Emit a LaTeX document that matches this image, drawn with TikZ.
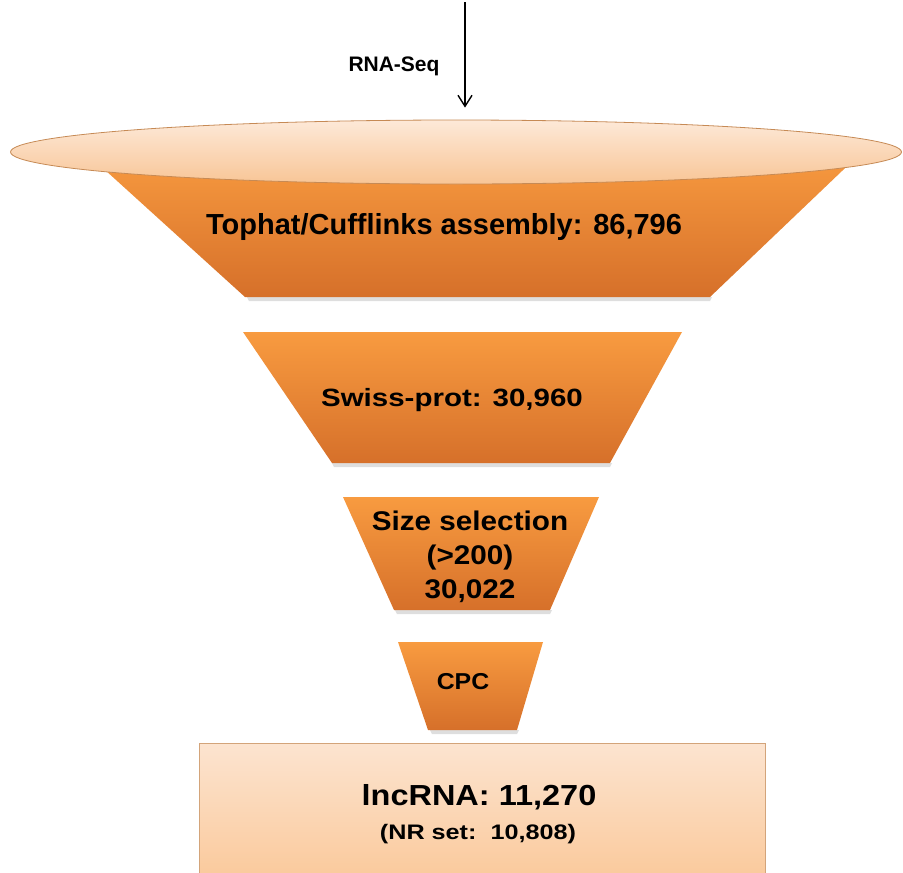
\documentclass[tikz,border=0pt]{standalone}
\usepackage{fontspec}
\setmainfont{Liberation Sans}
\usetikzlibrary{calc,positioning,arrows.meta,shapes.geometric}

\definecolor{funnelhi}{HTML}{F89B40}
\definecolor{funnello}{HTML}{D6702A}
\definecolor{rimhi}{HTML}{FDE9D8}
\definecolor{rimlo}{HTML}{F8C596}
\definecolor{rimline}{HTML}{C68A55}
\definecolor{boxhi}{HTML}{FCE4D0}
\definecolor{boxlo}{HTML}{FAC797}
\definecolor{boxline}{HTML}{D3A47A}

\newcommand\stretchx[2]{\scalebox{#1}[1]{#2}}

\tikzset{
  stage/.style={top color=funnelhi,bottom color=funnello},
  stageshadow/.style={fill=black,opacity=0.13},
  lbl/.style={font=\bfseries,align=center,inner sep=0pt},
}

\begin{document}
\begin{tikzpicture}[x=1pt,y=-1pt]
  \useasboundingbox (0,0) rectangle (903,873);
  \clip (0,0) rectangle (903,873);
  % stiny pod lichobezniky
  \fill[stageshadow] (247,297) -- (712,297) -- (710,301) -- (249,301) -- cycle;
  \fill[stageshadow] (332,463) -- (612,463) -- (610,467) -- (334,467) -- cycle;
  \fill[stageshadow] (395,610) -- (552,610) -- (550,614) -- (397,614) -- cycle;
  \fill[stageshadow] (430,730) -- (519,730) -- (517,734) -- (432,734) -- cycle;
  % nalevka: horni okraj je elipsa, pod ni lichobezniky
  \shade[stage] (83,150) -- (864,150) -- (710,297) -- (245,297) -- cycle;
  \node[ellipse,draw=rimline,line width=0.8pt,top color=rimhi,bottom color=rimlo,
        minimum width=891pt,minimum height=64pt,inner sep=0pt] (rim) at (456,152) {};
  \shade[stage] (243,332) -- (682,332) -- (610,463) -- (332,463) -- cycle;
  \shade[stage] (343,497) -- (599,497) -- (550,610) -- (394,610) -- cycle;
  \shade[stage] (398,642) -- (543,642) -- (517,730) -- (428,730) -- cycle;
  \shade[top color=boxhi,bottom color=boxlo,draw=boxline,line width=0.8pt]
    (199,743) rectangle (765,890);

  \node[lbl,font=\bfseries\fontsize{21}{24}\selectfont] (seqlbl) at (394,66) {RNA-Seq};
  \coordinate (seqtop) at (465,2);
  \draw[line width=1.4pt,-{Straight Barb[length=11pt,width=14pt,line width=1.4pt]},
        shorten >=12pt] (seqtop) -- (seqtop |- rim.north);

  \node[lbl,font=\bfseries\fontsize{29}{32}\selectfont] (tophat) at (444,227)
    {Tophat/Cufflinks assembly: 86,796};
  \node[lbl,font=\bfseries\fontsize{25}{28}\selectfont] (swiss) at (452,400)
    {\stretchx{1.18}{Swiss-prot: 30,960}};
  \node[lbl,font=\bfseries\fontsize{27}{34}\selectfont] (sizesel) at (470,557)
    {\stretchx{1.1}{Size selection}\\\stretchx{1.1}{(>200)}\\\stretchx{1.1}{30,022}};
  \node[lbl,font=\bfseries\fontsize{23}{26}\selectfont] (cpc) at (463,682)
    {\stretchx{1.08}{CPC}};
  \node[lbl,font=\bfseries\fontsize{29}{32}\selectfont] (lnc) at (479,797)
    {\stretchx{1.12}{lncRNA: 11,270}};
  \node[lbl,font=\bfseries\fontsize{21}{24}\selectfont] (nrset) at (478,834)
    {\stretchx{1.2}{(NR set:\ \ 10,808)}};
\end{tikzpicture}
\end{document}
